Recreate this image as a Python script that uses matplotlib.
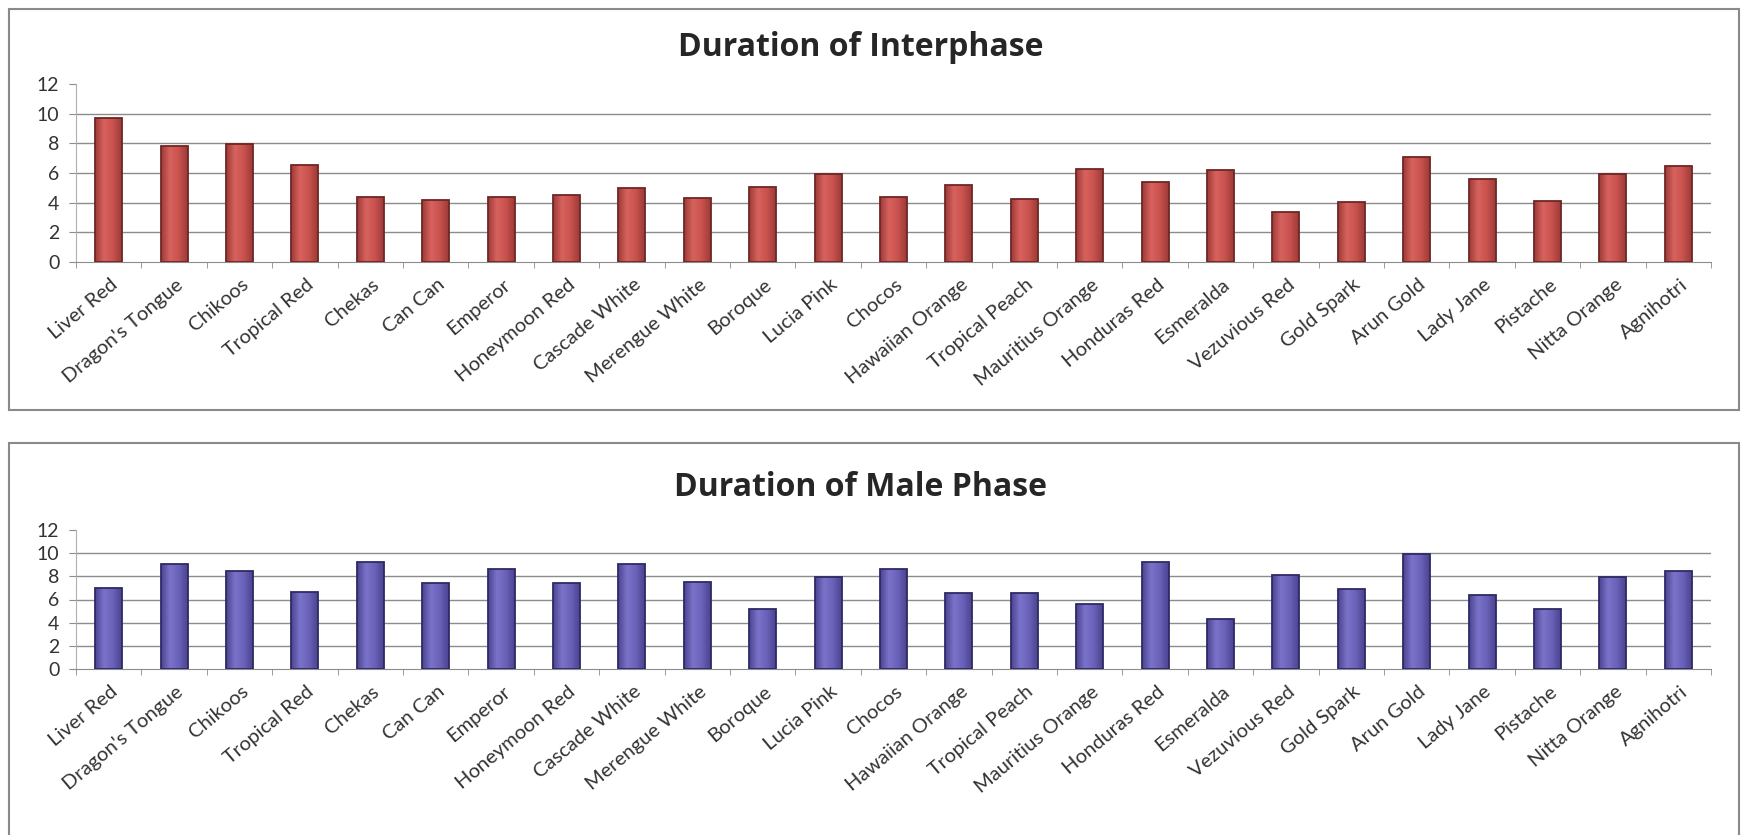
import numpy as np
import matplotlib
matplotlib.use("Agg")
import matplotlib.pyplot as plt
from matplotlib.colors import LinearSegmentedColormap
from matplotlib.patches import Rectangle

plt.rcParams["font.family"] = ["Lato", "DejaVu Sans"]

VARIETIES = [
    "Liver Red", "Dragon's Tongue", "Chikoos", "Tropical Red", "Chekas",
    "Can Can", "Emperor", "Honeymoon Red", "Cascade White", "Merengue White",
    "Boroque", "Lucia Pink", "Chocos", "Hawaiian Orange", "Tropical Peach",
    "Mauritius Orange", "Honduras Red", "Esmeralda", "Vezuvious Red",
    "Gold Spark", "Arun Gold", "Lady Jane", "Pistache", "Nitta Orange",
    "Agnihotri",
]

# days
interphase = [9.7, 7.85, 7.95, 6.55, 4.4, 4.2, 4.35, 4.5, 5.0, 4.3,
              5.05, 5.9, 4.4, 5.2, 4.25, 6.25, 5.4, 6.2, 3.4, 4.05,
              7.05, 5.6, 4.1, 5.9, 6.45]
male_phase = [6.95, 9.1, 8.45, 6.65, 9.2, 7.4, 8.65, 7.4, 9.1, 7.55,
              5.15, 7.95, 8.65, 6.6, 6.6, 5.6, 9.2, 4.3, 8.15, 6.9,
              9.95, 6.4, 5.2, 7.9, 8.45]

Y_TICKS = [0, 2, 4, 6, 8, 10, 12]

W, H = 1748, 835
GRID = "#8c8c8c"
TEXT = "#333333"


def shaded_bars(ax, values, stops, edge):
    x = np.arange(len(values))
    bars = ax.bar(x, values, width=0.41, facecolor="none", edgecolor=edge,
                  linewidth=1.3, zorder=4)
    cmap = LinearSegmentedColormap.from_list("shade", stops)
    grad = np.linspace(0, 1, 64).reshape(1, -1)
    for b in bars:
        x0, y0 = b.get_x(), b.get_y()
        im = ax.imshow(grad, extent=[x0, x0 + b.get_width(), y0, y0 + b.get_height()],
                       aspect="auto", cmap=cmap, interpolation="bicubic", zorder=3)
        im.set_clip_path(b)
    return bars


def style_axes(ax, title, title_y):
    n = len(VARIETIES)
    ax.set_xlim(-0.5, n - 0.5)
    ax.set_ylim(0, 12)
    ax.set_yticks(Y_TICKS)
    ax.set_yticklabels([str(v) for v in Y_TICKS], fontsize=14, color=TEXT)
    for v in Y_TICKS[1:-1]:
        ax.axhline(v, color=GRID, lw=1.0, zorder=1)
    ax.set_xticks(np.arange(n) + 0.02)
    ax.set_xticklabels(VARIETIES, rotation=40, ha="right", rotation_mode="anchor",
                       fontsize=14.5, color=TEXT)
    ax.set_xticks(np.arange(n + 1) - 0.5, minor=True)
    ax.tick_params(axis="x", which="major", length=0, pad=10)
    ax.tick_params(axis="x", which="minor", length=4, color=GRID)
    ax.tick_params(axis="y", length=5, color=GRID, pad=7)
    for side in ("top", "right"):
        ax.spines[side].set_visible(False)
    ax.spines["left"].set_color("#b0b0b0")
    ax.spines["bottom"].set_color(GRID)
    ax.figure.text(ax.get_position().x0 + ax.get_position().width * 0.48, title_y,
                   title, ha="center", va="center", fontsize=23,
                   family=["Open Sans", "DejaVu Sans"], fontweight="bold",
                   color="#262626")


def main():
    fig = plt.figure(figsize=(W / 100, H / 100), dpi=100)

    # chart frames
    fig.patches.append(Rectangle((9 / W, 1 - 410 / H), 1730 / W, 401 / H,
                                 transform=fig.transFigure, fill=False,
                                 edgecolor="#8a8a8a", lw=1.5))
    fig.patches.append(Rectangle((9 / W, -0.02), 1730 / W, 1.02 - 443 / H,
                                 transform=fig.transFigure, fill=False,
                                 edgecolor="#8a8a8a", lw=1.5))

    ax1 = fig.add_axes([76 / W, 1 - 262 / H, 1635 / W, 178 / H])
    shaded_bars(ax1, interphase, ["#9c3b38", "#d8625e", "#c9524e", "#9c3b38"], "#6e2624")
    style_axes(ax1, "Duration of Interphase", 1 - 48 / H)

    ax2 = fig.add_axes([76 / W, 1 - 669 / H, 1635 / W, 139 / H])
    shaded_bars(ax2, male_phase, ["#4a4490", "#7b73c9", "#6a62b8", "#4a4490"], "#2e2a66")
    style_axes(ax2, "Duration of Male Phase", 1 - 487 / H)

    fig.savefig("out.png", dpi=100)
    plt.close(fig)


if __name__ == "__main__":
    main()
